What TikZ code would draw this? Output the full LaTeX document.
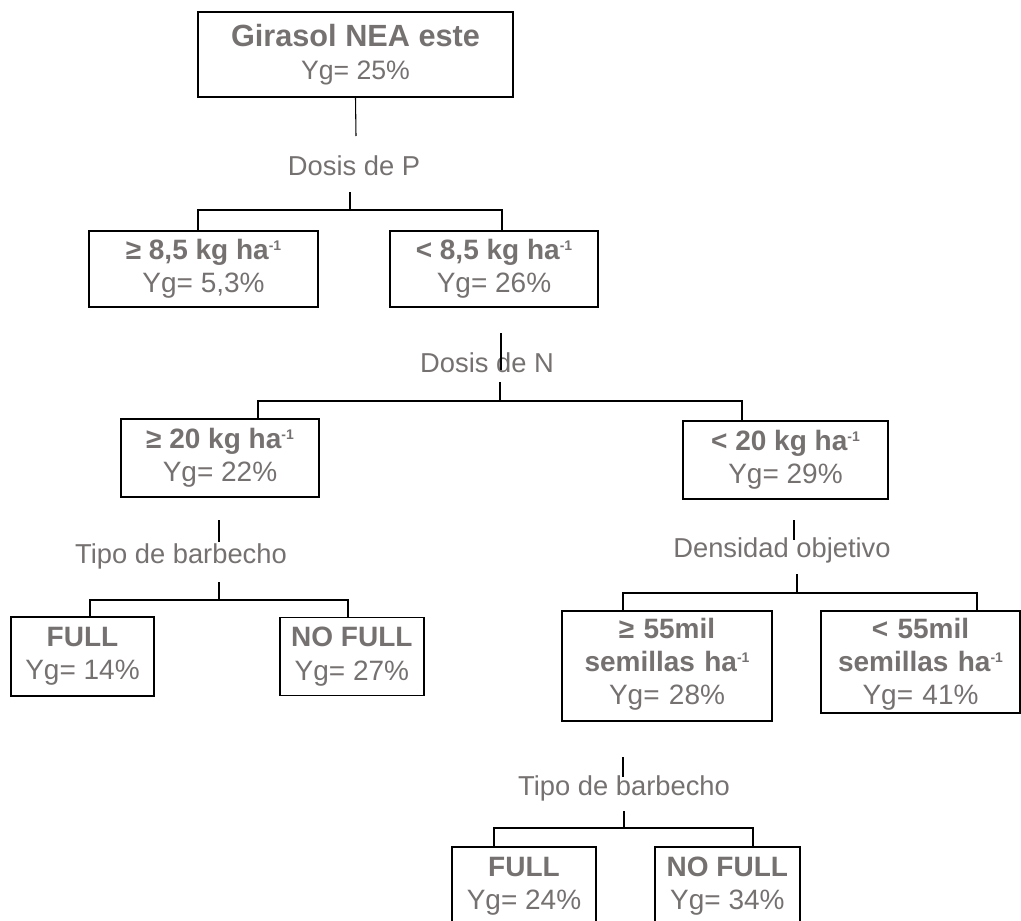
\documentclass[tikz,border=0pt]{standalone}
\usepackage{fontspec}
\setmainfont{Liberation Sans}
\usetikzlibrary{positioning}
\definecolor{txtgray}{RGB}{118,113,113}
\newcommand{\expo}[1]{\raisebox{6.5pt}{\fontsize{10.5}{11}\selectfont\textbf{#1}}}
\tikzstyle{block} = [draw, line width=1.4pt, text=txtgray, align=center, inner sep=0pt, font=\fontsize{21}{25}\selectfont]
\tikzset{cond/.style={text=txtgray, inner sep=0pt, anchor=base, font=\fontsize{20.5}{25}\selectfont},
    bar/.style={line width=0.8pt},
    tick/.style={line width=1.4pt}
}

\begin{document}
\begin{tikzpicture}[x=0.75pt, y=-0.75pt]
    \useasboundingbox (0,0) rectangle (1021,921);

    % boxes
    \node [block, minimum width=236.25pt, minimum height=63.75pt] (root) at (355.5,54.5)
        {{\fontsize{23}{25}\selectfont\textbf{Girasol NEA este}}\\{\fontsize{20}{25}\selectfont Yg= 25\%}};
    \node [block, minimum width=171.75pt, minimum height=57pt] (p1) at (203.5,269)
        {\textbf{≥ 8,5 kg ha\expo{-1}}\\Yg= 5,3\%};
    \node [block, minimum width=156pt, minimum height=57pt] (p2) at (494,269)
        {\textbf{< 8,5 kg ha\expo{-1}}\\Yg= 26\%};
    \node [block, minimum width=148.5pt, minimum height=58.5pt] (n1) at (220,458)
        {\textbf{≥ 20 kg ha\expo{-1}}\\Yg= 22\%};
    \node [block, minimum width=153.75pt, minimum height=58.5pt] (n2) at (785.5,460)
        {\textbf{< 20 kg ha\expo{-1}}\\Yg= 29\%};
    \node [block, minimum width=107.25pt, minimum height=59.25pt] (b1) at (82.5,656.5)
        {\textbf{FULL}\\Yg= 14\%};
    \node [block, minimum width=108pt, minimum height=58.5pt, right=93pt of b1] (b2)
        {\textbf{NO FULL}\\Yg= 27\%};
    \node [block, minimum width=157.5pt, minimum height=82.5pt, text width=157.5pt,
        text height=0pt, text depth=42pt] (d1) at (667,666)
        {\textbf{≥ 55mil}\\\textbf{semillas ha\expo{-1}}\\Yg= 28\%};
    \node [block, minimum width=149.25pt, minimum height=76.5pt, text width=149.25pt,
        text height=0pt, text depth=36pt] (d2) at (920.5,662)
        {\textbf{< 55mil}\\\textbf{semillas ha\expo{-1}}\\Yg= 41\%};
    \node [block, minimum width=108pt, minimum height=58.5pt] (f1) at (524,886)
        {\textbf{FULL}\\Yg= 24\%};
    \node [block, minimum width=108.75pt, minimum height=58.5pt, right=42.75pt of f1] (f2)
        {\textbf{NO FULL}\\Yg= 34\%};

    % split labels
    \node [cond] (dosisP) at (354,175) {Dosis de P};
    \node [cond] (dosisN) at (487,372) {Dosis de N};
    \node [cond] (tipoA) at (181,563) {Tipo de barbecho};
    \node [cond] (dens) at (782,557) {Densidad objetivo};
    \node [cond] (tipoB) at (624,795) {Tipo de barbecho};

    % split points
    \coordinate (stemP) at (356,136);
    \coordinate (tP) at (350,192);   \coordinate (sP) at (350,210);
    \coordinate (lP) at (198,210);   \coordinate (rP) at (502,210);
    \coordinate (uN) at (501,333);   \coordinate (vN) at (501,370);
    \coordinate (tN) at (500,382);   \coordinate (sN) at (500,401);
    \coordinate (lN) at (258,401);   \coordinate (rN) at (742,401);
    \coordinate (uA) at (219,520);   \coordinate (vA) at (219,542);
    \coordinate (tA) at (219,582);   \coordinate (sA) at (219,600);
    \coordinate (lA) at (90,600);    \coordinate (rA) at (348,600);
    \coordinate (uD) at (794,520);   \coordinate (vD) at (794,540);
    \coordinate (tD) at (797,574);   \coordinate (sD) at (797,593);
    \coordinate (lD) at (623,593);   \coordinate (rD) at (977,593);
    \coordinate (uB) at (623,757);   \coordinate (vB) at (623,777);
    \coordinate (tB) at (624,811);   \coordinate (sB) at (624,828);
    \coordinate (lB) at (494,828);   \coordinate (rB) at (753,828);

    % connectors
    \draw [bar] (root.south) -- (stemP);
    \draw [tick] (tP) -- (sP);
    \draw [bar] (lP |- p1.north) -- (lP) -- (rP) -- (rP |- p2.north);

    \draw [bar] (uN) -- (vN);
    \draw [tick] (tN) -- (sN);
    \draw [bar] (lN |- n1.north) -- (lN) -- (rN) -- (rN |- n2.north);

    \draw [bar] (uA) -- (vA);
    \draw [tick] (tA) -- (sA);
    \draw [bar] (lA |- b1.north) -- (lA) -- (rA) -- (rA |- b2.north);

    \draw [bar] (uD) -- (vD);
    \draw [tick] (tD) -- (sD);
    \draw [bar] (lD |- d1.north) -- (lD) -- (rD) -- (rD |- d2.north);

    \draw [bar] (uB) -- (vB);
    \draw [tick] (tB) -- (sB);
    \draw [bar] (lB |- f1.north) -- (lB) -- (rB) -- (rB |- f2.north);
\end{tikzpicture}
\end{document}
